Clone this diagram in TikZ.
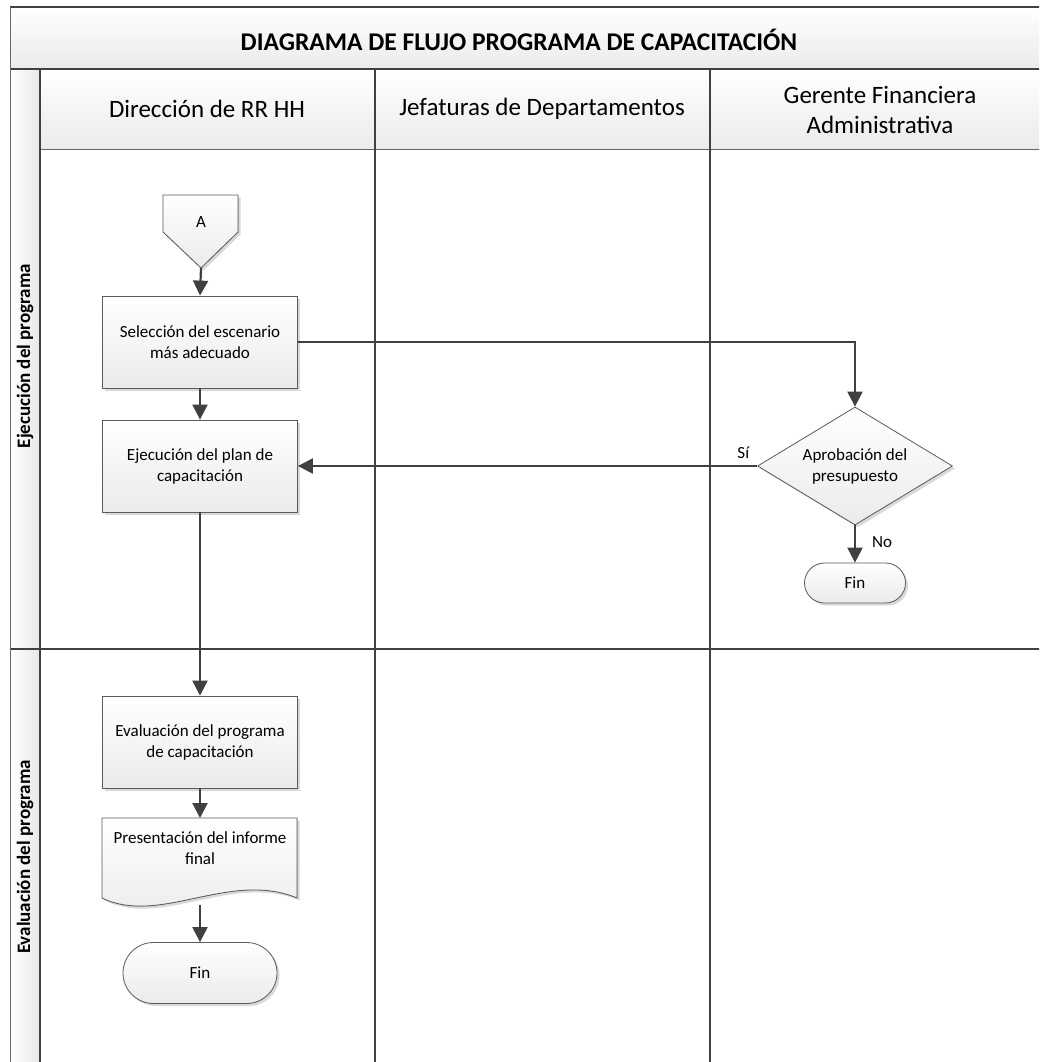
\documentclass[tikz,border=0pt]{standalone}
\usepackage{fontspec}
\setmainfont{Carlito}
\usetikzlibrary{shapes.geometric,shapes.misc,arrows.meta,shadows}
\definecolor{ln}{HTML}{404040}
\definecolor{bx}{HTML}{5A5A5A}
\tikzset{
  lane/.style={draw=ln, line width=2pt},
  thinlane/.style={draw=ln!80, line width=1pt},
  shadowed/.style={drop shadow={shadow xshift=2.5pt, shadow yshift=-2.5pt, opacity=0.25, fill=black!60}},
  proc/.style={draw=bx, line width=0.8pt, top color=white, bottom color=black!8,
    minimum width=195pt, minimum height=92pt, align=center, inner sep=2pt,
    font=\fontsize{17}{21}\selectfont, shadowed},
  term/.style={rounded rectangle, draw=bx, line width=0.8pt, top color=white, bottom color=black!8,
    font=\fontsize{17}{21}\selectfont, shadowed, inner sep=0pt},
  decision/.style={diamond, draw=bx, line width=0.8pt, top color=white, bottom color=black!8,
    aspect=1.65, minimum width=195pt, minimum height=118pt, inner sep=0pt, align=center,
    font=\fontsize{17}{21}\selectfont, shadowed},
  flow/.style={draw=ln, line width=2.2pt, -{Triangle[length=15pt,width=15pt]}},
  lbl/.style={font=\fontsize{17}{21}\selectfont, inner sep=0pt},
  hdr/.style={font=\fontsize{25}{32}\selectfont, align=center},
  phase/.style={font=\bfseries\fontsize{19}{23}\selectfont, rotate=90},
}
\begin{document}
\begin{tikzpicture}[x=1pt,y=-1pt]
\useasboundingbox (0,0) rectangle (1039,1062);
\clip (0,0) rectangle (1039,1062);
% background bands
\shade[top color=white, bottom color=black!8] (10,7) rectangle (1060,69);
\shade[top color=white, bottom color=black!8] (40,69) rectangle (1060,149);
\shade[left color=white, right color=black!9] (10,69) rectangle (40,1080);
% lines
\draw[lane] (10,7) -- (1060,7);
\draw[lane] (10,69) -- (1060,69);
\draw[thinlane] (40,149) -- (1060,149);
\draw[lane] (10,649) -- (1060,649);
\draw[thinlane] (10,7) -- (10,1080);
\draw[lane] (40,69) -- (40,1080);
\draw[lane] (375,69) -- (375,1080);
\draw[lane] (710,69) -- (710,1080);
% titles
\node[font=\bfseries\fontsize{25.5}{30}\selectfont] (title) at (519,40) {DIAGRAMA DE FLUJO PROGRAMA DE CAPACITACIÓN};
\node[hdr] (h1) at (207,109) {Dirección de RR HH};
\node[hdr] (h2) at (542,109) {Jefaturas de Departamentos};
\node[hdr] (h3) at (880,110) {Gerente Financiera\\[-2pt]Administrativa};
\node[phase] (p1) at (25,356) {Ejecución del programa};
\node[phase] (p2) at (25,857) {Evaluación del programa};
% off-page connector A
\filldraw[draw=bx, line width=0.8pt, top color=white, bottom color=black!8, shadowed]
  (163,195) -- (238,195) -- (238,232) -- (201,268) -- (163,232) -- cycle;
\node[lbl] (A) at (201,222) {A};
\coordinate (Atip) at (201,268);
% process nodes
\node[proc] (s1) at (200,342) {Selección del escenario\\más adecuado};
\node[proc] (s2) at (200,466) {Ejecución del plan de\\capacitación};
\node[decision] (d1) at (855,466) {Aprobación del\\presupuesto};
\node[term, minimum width=101pt, minimum height=40pt] (f1) at (855,583) {Fin};
\node[proc] (s3) at (200,742) {Evaluación del programa\\de capacitación};
% document shape
\coordinate (doc) at (200,818);
\filldraw[draw=bx, line width=0.8pt, top color=white, bottom color=black!8, shadowed]
  (102,818) -- (297,818) -- (297,898) .. controls (230,870) and (160,926) .. (102,898) -- cycle;
\node[lbl, align=center] (s4) at (200,848) {Presentación del informe\\final};
\coordinate (s4b) at (200,905);
\node[term, minimum width=154pt, minimum height=61pt] (f2) at (200,973) {Fin};
% connectors
\draw[flow] (Atip) -- (s1.north);
\draw[flow] (s1) -- (s2);
\draw[flow] (s1.east) -| (d1.north);
\draw[flow] (d1.west) -- (s2.east) node[pos=0.03, above=6pt, lbl] {Sí};
\draw[flow] (d1.south) -- (f1.north) node[pos=0.45, right=16pt, lbl] {No};
\draw[flow] (s2) -- (s3);
\draw[flow] (s3) -- (doc);
\draw[flow] (s4b) -- (f2.north);
\end{tikzpicture}
\end{document}
